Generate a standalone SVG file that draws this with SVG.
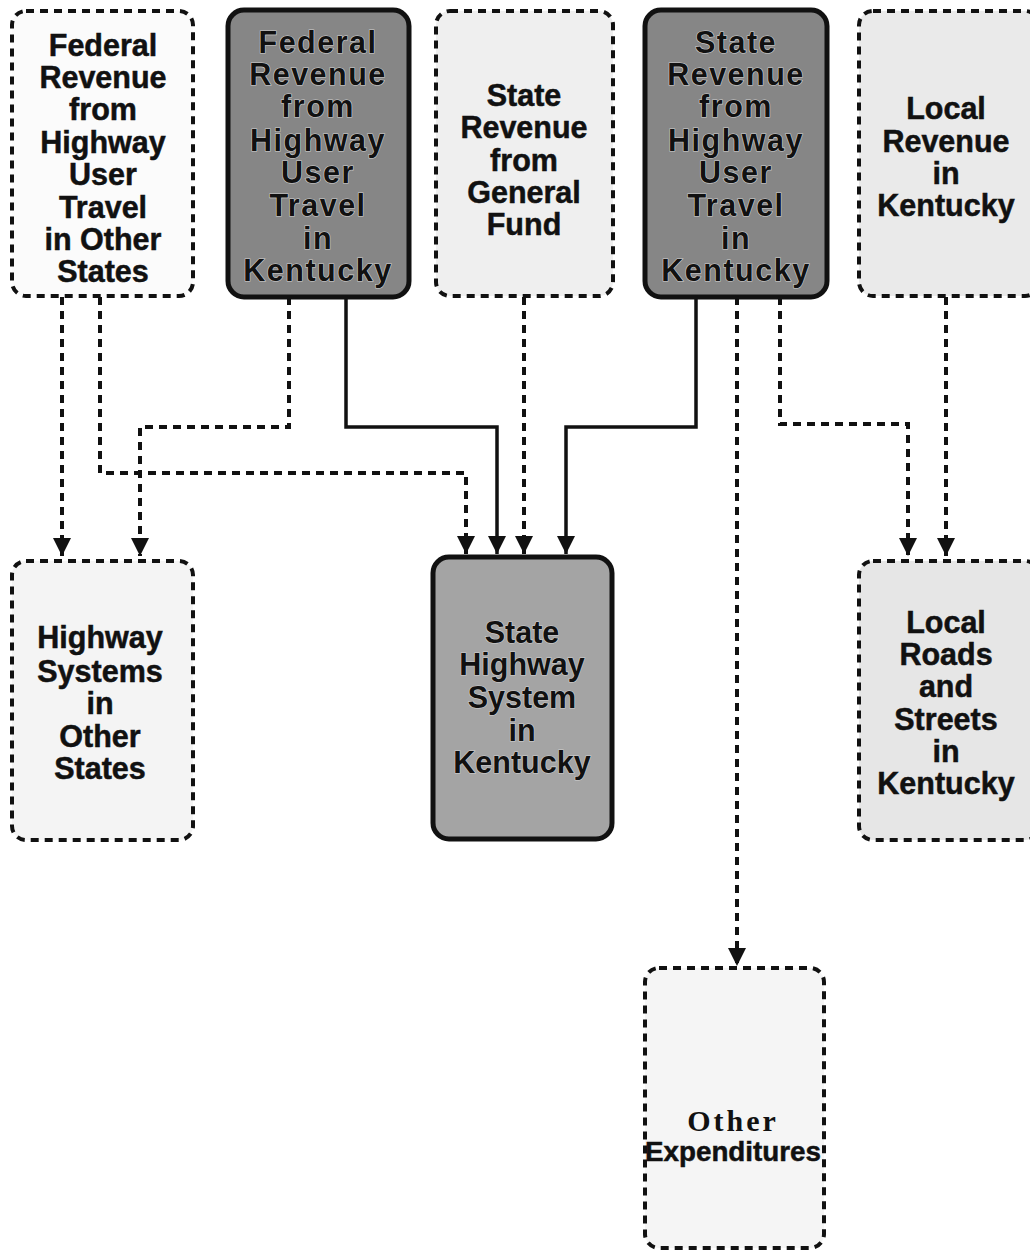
<svg xmlns="http://www.w3.org/2000/svg" width="1030" height="1255" viewBox="0 0 1030 1255">
<style>
.dash{fill:#f2f2f2;stroke:#111;stroke-width:4;stroke-dasharray:8 6}
.dark{fill:#868686;stroke:#111;stroke-width:5}
.mid{fill:#a4a4a4;stroke:#111;stroke-width:5}
.t{font-family:"Liberation Sans",Arial,sans-serif;font-weight:bold;font-size:30.5px;fill:#111;stroke:#111;stroke-width:0.5;text-anchor:middle}
.td{letter-spacing:1.5px;stroke:#d0d0d0;stroke-width:1.2;paint-order:stroke}
.ts{font-family:"Liberation Serif","Times New Roman",serif;font-weight:bold;font-size:30px;fill:#111;text-anchor:middle;letter-spacing:3px}
.cd{fill:none;stroke:#111;stroke-width:4;stroke-dasharray:8 6}
.cs{fill:none;stroke:#111;stroke-width:3.5}
</style>
<defs>
<marker id="ah" viewBox="0 0 18 18" refX="18" refY="9" markerWidth="18" markerHeight="18" markerUnits="userSpaceOnUse" orient="auto">
<path d="M0,0 L18,9 L0,18 z" fill="#111"/>
</marker>
</defs>
<rect width="1030" height="1255" fill="#fff"/>
<g id="connectors">
<path class="cd" d="M62,297 V556" marker-end="url(#ah)"/>
<path class="cd" d="M100,297 V473 H466 V554" marker-end="url(#ah)"/>
<path class="cd" d="M289,297 V427 H140 V556" marker-end="url(#ah)"/>
<path class="cs" d="M346,297 V427 H497 V554" marker-end="url(#ah)"/>
<path class="cd" d="M524,297 V554" marker-end="url(#ah)"/>
<path class="cs" d="M696,297 V427 H566 V554" marker-end="url(#ah)"/>
<path class="cd" d="M737,297 V966" marker-end="url(#ah)"/>
<path class="cd" d="M780,297 V424 H908 V556" marker-end="url(#ah)"/>
<path class="cd" d="M946,297 V556" marker-end="url(#ah)"/>
</g>
<g id="fed-other">
<rect class="dash" x="12" y="11" width="181" height="285" rx="14" style="fill:#fbfbfb"/>
<text class="t" x="103"><tspan x="103" y="56">Federal</tspan><tspan x="103" y="88">Revenue</tspan><tspan x="103" y="120">from</tspan><tspan x="103" y="153">Highway</tspan><tspan x="103" y="185">User</tspan><tspan x="103" y="218">Travel</tspan><tspan x="103" y="250">in Other</tspan><tspan x="103" y="282">States</tspan></text>
</g>
<g id="fed-ky">
<rect class="dark" x="228" y="10" width="181" height="287" rx="16"/>
<text class="t td" x="318"><tspan x="318" y="53">Federal</tspan><tspan x="318" y="85">Revenue</tspan><tspan x="318" y="117">from</tspan><tspan x="318" y="151">Highway</tspan><tspan x="318" y="183">User</tspan><tspan x="318" y="216">Travel</tspan><tspan x="318" y="249">in</tspan><tspan x="318" y="281">Kentucky</tspan></text>
</g>
<g id="state-gen">
<rect class="dash" x="436" y="11" width="177" height="285" rx="14" style="fill:#efefef"/>
<text class="t" x="524"><tspan x="524" y="106">State</tspan><tspan x="524" y="138">Revenue</tspan><tspan x="524" y="171">from</tspan><tspan x="524" y="203">General</tspan><tspan x="524" y="235">Fund</tspan></text>
</g>
<g id="state-ky">
<rect class="dark" x="645" y="10" width="182" height="287" rx="16"/>
<text class="t td" x="736"><tspan x="736" y="53">State</tspan><tspan x="736" y="85">Revenue</tspan><tspan x="736" y="117">from</tspan><tspan x="736" y="151">Highway</tspan><tspan x="736" y="183">User</tspan><tspan x="736" y="216">Travel</tspan><tspan x="736" y="249">in</tspan><tspan x="736" y="281">Kentucky</tspan></text>
</g>
<g id="local-rev">
<rect class="dash" x="859" y="11" width="180" height="285" rx="14" style="fill:#eaeaea"/>
<text class="t" x="946"><tspan x="946" y="119">Local</tspan><tspan x="946" y="152">Revenue</tspan><tspan x="946" y="184">in</tspan><tspan x="946" y="216">Kentucky</tspan></text>
</g>
<g id="hwy-other">
<rect class="dash" x="12" y="561" width="181" height="279" rx="14" style="fill:#f4f4f4"/>
<text class="t" x="100"><tspan x="100" y="648">Highway</tspan><tspan x="100" y="682">Systems</tspan><tspan x="100" y="714">in</tspan><tspan x="100" y="747">Other</tspan><tspan x="100" y="779">States</tspan></text>
</g>
<g id="state-hwy">
<rect class="mid" x="433" y="557" width="179" height="282" rx="16"/>
<text class="t" x="522" style="stroke:#d0d0d0;stroke-width:1.2;paint-order:stroke"><tspan x="522" y="643">State</tspan><tspan x="522" y="675">Highway</tspan><tspan x="522" y="708">System</tspan><tspan x="522" y="741">in</tspan><tspan x="522" y="773">Kentucky</tspan></text>
</g>
<g id="local-roads">
<rect class="dash" x="859" y="561" width="180" height="279" rx="14" style="fill:#e6e6e6"/>
<text class="t" x="946"><tspan x="946" y="633">Local</tspan><tspan x="946" y="665">Roads</tspan><tspan x="946" y="697">and</tspan><tspan x="946" y="730">Streets</tspan><tspan x="946" y="762">in</tspan><tspan x="946" y="794">Kentucky</tspan></text>
</g>
<g id="other-exp">
<rect class="dash" x="645" y="968" width="179" height="280" rx="14" style="fill:#f5f5f5"/>
<text class="ts" x="733" y="1131">Other</text>
<text class="t" x="733" y="1161" style="font-size:28px" textLength="176" lengthAdjust="spacingAndGlyphs">Expenditures</text>
</g>
</svg>
